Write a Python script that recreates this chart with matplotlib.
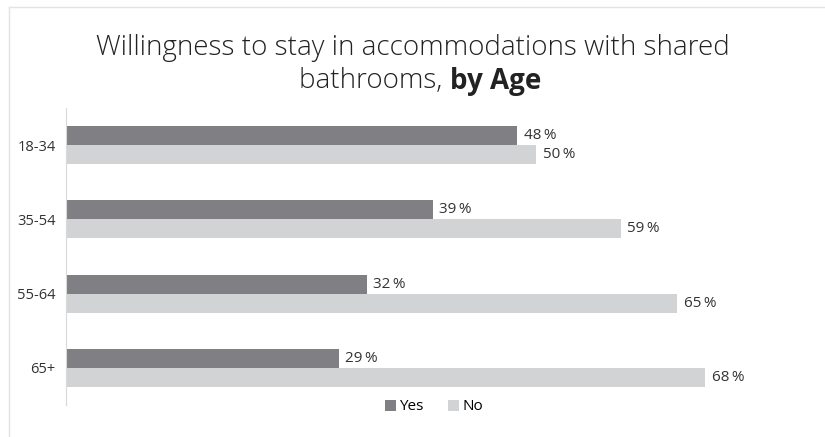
import matplotlib.pyplot as plt
from matplotlib.lines import Line2D
import numpy as np

plt.rcParams['font.family'] = ['Open Sans', 'DejaVu Sans']

ages = ['18-34', '35-54', '55-64', '65+']
yes_pct = [48, 39, 32, 29]
no_pct = [50, 59, 65, 68]

yes_color = '#808084'
no_color = '#d2d3d5'
text_color = '#333333'
title_color = '#222222'

fig = plt.figure(figsize=(8.25, 4.37), dpi=100)
ax = fig.add_axes([66 / 825, 1 - 405 / 437, 752 / 825, 297 / 437])

y = np.arange(len(ages))
h = 0.255
yes_bars = ax.barh(y - h / 2, yes_pct, height=h, color=yes_color, label='Yes')
no_bars = ax.barh(y + h / 2, no_pct, height=h, color=no_color, label='No')

for bars in (yes_bars, no_bars):
    for b in bars:
        w = b.get_width()
        ax.text(w + 0.7, b.get_y() + b.get_height() / 2, f'{w:g}\u2009%',
                va='center', ha='left', fontsize=11, color=text_color)

ax.set_xlim(0, 80)
ax.set_ylim(3.5, -0.5)
ax.set_yticks(y)
ax.set_yticklabels(ages, fontsize=10.5, color=text_color)
ax.tick_params(axis='y', length=0, pad=7.5)
ax.set_xticks([])
for side in ('top', 'right', 'bottom'):
    ax.spines[side].set_visible(False)
ax.spines['left'].set_color('#d9d9d9')

# two-line title, second line mixes light and bold
fs = 20
fig.text(413 / 825, 1 - 48 / 437, 'Willingness to stay in accommodations with shared',
         ha='center', va='center', fontsize=fs, fontweight='light', color=title_color)
t1 = fig.text(0, 1 - 81 / 437, 'bathrooms, ', ha='left', va='center',
              fontsize=fs, fontweight='light', color=title_color)
t2 = fig.text(0, 1 - 81 / 437, 'by Age', ha='left', va='center',
              fontsize=fs, fontweight='bold', color=title_color)
r = fig.canvas.get_renderer()
w1 = t1.get_window_extent(r).width / fig.bbox.width
w2 = t2.get_window_extent(r).width / fig.bbox.width
x0 = 420 / 825 - (w1 + w2) / 2
t1.set_x(x0)
t2.set_x(x0 + w1)

fig.legend(handles=[yes_bars, no_bars], labels=['Yes', 'No'], loc='center',
           bbox_to_anchor=(434 / 825, 1 - 407 / 437), ncol=2, frameon=False,
           fontsize=11, handlelength=0.75, handleheight=0.75,
           handletextpad=0.2, columnspacing=1.6)

# thin border around the chart area
fig.add_artist(Line2D([9 / 825, 1], [1 - 7 / 437] * 2, color='#e3e3e3', lw=1))
fig.add_artist(Line2D([9 / 825] * 2, [0, 1 - 7 / 437], color='#e3e3e3', lw=1))

fig.savefig('out.png', dpi=100)
